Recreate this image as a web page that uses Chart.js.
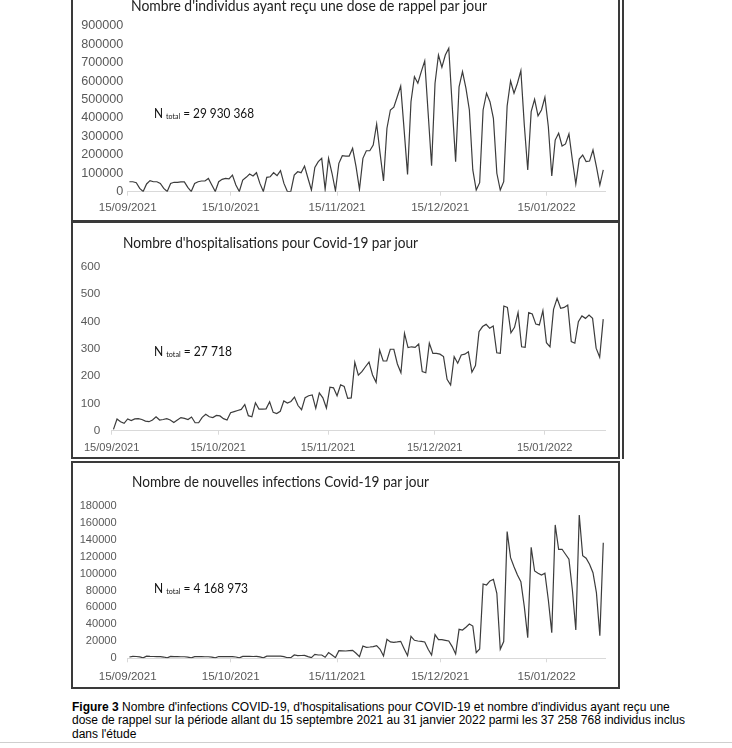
<!DOCTYPE html>
<html>
<head>
<meta charset="utf-8">
<script src="https://cdn.jsdelivr.net/npm/chart.js@4.4.1/dist/chart.umd.min.js"></script>
<style>
html,body{margin:0;padding:0;background:#fff;}
#page{position:relative;width:732px;height:748px;overflow:hidden;background:#fff;}
.box{position:absolute;border:2px solid #3a3a3a;box-sizing:border-box;}
canvas{position:absolute;}
.t{position:absolute;white-space:nowrap;transform-origin:0 0;color:#222;font-family:Lato,'Liberation Sans',sans-serif;}
.title{font-size:15px;line-height:15px;}
.ntot{font-size:13.5px;line-height:13.5px;color:#111;}
.ntot sub{font-size:8px;vertical-align:0;position:relative;top:1px;}
#caption{position:absolute;left:72px;top:700.5px;font-family:'Liberation Sans',Arial,sans-serif;font-size:12px;line-height:13.6px;color:#000;white-space:nowrap;transform-origin:0 0;}
#cover{position:absolute;left:0;top:742px;width:732px;height:10px;background:#fff;border-top:1px solid #cfcfcf;}
</style>
</head>
<body>
<div id="page">
  <div class="box" style="left:71px;top:-4px;width:549px;height:226px;"></div>
  <div class="box" style="left:71px;top:221px;width:549px;height:238px;"></div>
  <div class="box" style="left:71px;top:461px;width:549px;height:228px;"></div>
  <div style="position:absolute;left:622px;top:0;width:1.5px;height:459px;background:#3a3a3a;"></div>

  <canvas id="c1" width="545" height="220" style="left:73px;top:0px;"></canvas>
  <canvas id="c2" width="545" height="234" style="left:73px;top:223px;"></canvas>
  <canvas id="c3" width="545" height="224" style="left:73px;top:463px;"></canvas>

  <div class="t title fit" data-w="356" style="left:131px;top:-2.5px;">Nombre d'individus ayant reçu une dose de rappel par jour</div>
  <div class="t title fit" data-w="295" style="left:123px;top:235px;">Nombre d'hospitalisations pour Covid-19 par jour</div>
  <div class="t title fit" data-w="297" style="left:132px;top:474px;">Nombre de nouvelles infections Covid-19 par jour</div>

  <div class="t ntot fit" data-w="100" style="left:154px;top:107px;">N <sub>total</sub> = 29 930 368</div>
  <div class="t ntot fit" data-w="78" style="left:154px;top:345px;">N <sub>total</sub> = 27 718</div>
  <div class="t ntot fit" data-w="94" style="left:154px;top:582px;">N <sub>total</sub> = 4 168 973</div>

  <div id="caption" class="fit" data-w="613"><b>Figure 3</b> Nombre d'infections COVID-19, d'hospitalisations pour COVID-19 et nombre d'individus ayant reçu une<br>dose de rappel sur la période allant du 15 septembre 2021 au 31 janvier 2022 parmi les 37 258 768 individus inclus<br>dans l'étude</div>
  <div id="cover"></div>
</div>
<script>
// ---- data (daily, 15/09/2021 .. 31/01/2022) ----
const tickDays = [0, 30, 61, 91, 122];
const xTickLabels = ['15/09/2021', '15/10/2021', '15/11/2021', '15/12/2021', '15/01/2022'];
const nDays = 139;

const boosters = [
  54000, 54000, 49000, 18000, 1000, 42000, 60000, 54000, 54000, 45000,
  18000, 1000, 45000, 51000, 51000, 53000, 53000, 24000, 1000, 45000,
  54000, 58000, 58000, 72000, 36000, 1000, 54000, 67000, 72000, 70000,
  90000, 36000, 1000, 63000, 78000, 96000, 85000, 103000, 45000, 1000,
  78000, 81000, 103000, 87000, 114000, 45000, 1000, 2000, 90000, 108000,
  103000, 139000, 73000, 9000, 132000, 163000, 181000, 13000, 181000, 100000,
  5000, 154000, 195000, 193000, 193000, 235000, 136000, 13000, 181000, 222000,
  222000, 253000, 367000, 208000, 58000, 344000, 443000, 458000, 515000, 573000,
  335000, 94000, 488000, 624000, 588000, 651000, 709000, 425000, 141000, 588000,
  741000, 675000, 741000, 778000, 467000, 163000, 569000, 651000, 561000, 443000,
  118000, 9000, 49000, 443000, 534000, 488000, 398000, 100000, 9000, 54000,
  465000, 600000, 534000, 588000, 656000, 362000, 118000, 434000, 501000, 411000,
  443000, 512000, 352000, 85000, 280000, 317000, 248000, 259000, 313000, 172000,
  42000, 177000, 199000, 163000, 166000, 226000, 136000, 36000, 118000
];

const hospitalisations = [
  5, 43, 33, 27, 43, 37, 43, 44, 41, 35,
  33, 39, 51, 39, 41, 44, 39, 30, 39, 48,
  45, 41, 50, 29, 29, 49, 60, 51, 48, 56,
  54, 44, 39, 66, 70, 74, 78, 96, 55, 51,
  102, 79, 79, 80, 106, 67, 63, 71, 109, 101,
  107, 123, 92, 77, 121, 128, 131, 82, 138, 120,
  83, 159, 157, 128, 168, 162, 118, 120, 250, 203,
  216, 234, 251, 204, 177, 295, 255, 255, 298, 298,
  244, 212, 356, 304, 307, 305, 317, 216, 212, 320,
  283, 283, 280, 271, 188, 167, 271, 247, 277, 280,
  289, 214, 238, 362, 381, 389, 375, 383, 285, 283,
  456, 451, 358, 378, 432, 307, 305, 432, 427, 390,
  387, 439, 322, 307, 444, 484, 448, 451, 460, 326,
  320, 399, 420, 411, 423, 411, 302, 269, 408
];

const infections = [
  1500, 2300, 2100, 1600, 600, 2500, 2200, 2100, 2000, 1900,
  1500, 500, 2200, 2000, 1900, 1800, 1800, 1400, 500, 2000,
  1900, 1900, 1800, 1800, 1400, 500, 2100, 2000, 2000, 2000,
  2000, 1500, 500, 2300, 2200, 2200, 2100, 2200, 1600, 600,
  2600, 2500, 2500, 2500, 2600, 1900, 700, 800, 3900, 3100,
  3300, 3500, 2000, 800, 4700, 3900, 3900, 1200, 6700, 3900,
  800, 9000, 8800, 8600, 9000, 9400, 5900, 2000, 14500, 12900,
  13300, 13800, 14900, 10600, 2800, 22400, 19300, 18900, 19300, 20000,
  11400, 3100, 26000, 21200, 20400, 20000, 19300, 10600, 3900, 27900,
  22000, 22000, 21200, 20400, 13800, 5100, 34200, 33400, 36600, 40500,
  38100, 6700, 11000, 87700, 86500, 91200, 93200, 76700, 10600, 19700,
  149400, 118700, 108100, 98300, 90400, 60900, 24400, 130900, 103000, 100300,
  98300, 100300, 68800, 30300, 157300, 128600, 128600, 122700, 116800, 80600,
  33400, 169100, 121100, 118000, 110900, 101000, 77500, 26700, 136400
];

// ---- chart builder ----
const TICK_COLOR = '#595959';
const AXIS_COLOR = '#d9d9d9';
const LINE_COLOR = '#3c3c3c';

function makeChart(id, values, o) {
  const ctx = document.getElementById(id).getContext('2d');
  return new Chart(ctx, {
    type: 'line',
    data: {
      datasets: [{
        data: values.map((v, i) => ({ x: i + 0.5, y: v })),
        borderColor: LINE_COLOR,
        borderWidth: 1.2,
        pointRadius: 0,
        tension: 0,
        fill: false
      }]
    },
    options: {
      responsive: false,
      animation: false,
      events: [],
      layout: { autoPadding: false, padding: { left: 0, right: o.padRight, top: o.padTop, bottom: 0 } },
      plugins: { legend: { display: false }, tooltip: { enabled: false }, title: { display: false } },
      scales: {
        x: {
          type: 'linear', min: 0, max: nDays,
          afterBuildTicks: s => { s.ticks = tickDays.map(v => ({ value: v })); },
          afterFit: s => { s.height = o.xH; },
          ticks: {
            autoSkip: false, maxRotation: 0, minRotation: 0,
            callback: (v, i) => xTickLabels[i],
            color: TICK_COLOR,
            font: { family: 'Liberation Sans', size: o.xFont },
            padding: o.xPad
          },
          grid: { display: true, drawOnChartArea: false, drawTicks: true, tickLength: 4, color: AXIS_COLOR, lineWidth: 1 },
          border: { display: true, color: AXIS_COLOR, width: 1 }
        },
        y: {
          min: 0, max: o.max,
          afterFit: s => { s.width = o.yW; },
          ticks: {
            stepSize: o.step, autoSkip: false,
            callback: v => String(v),
            color: TICK_COLOR,
            font: { family: 'Liberation Sans', size: o.yFont },
            padding: o.yPad
          },
          grid: { display: false, drawTicks: false },
          border: { display: false }
        }
      }
    }
  });
}

makeChart('c1', boosters, { max: 900000, step: 100000, yW: 54.7, padTop: 25.7, padRight: 13, xH: 28.3, yFont: 12.6, xFont: 11.6, yPad: 4.4, xPad: 5 });
makeChart('c2', hospitalisations, { max: 600, step: 100, yW: 38.7, padTop: 43.7, padRight: 13, xH: 26.3, yFont: 11.7, xFont: 11.1, yPad: 11.4, xPad: 7 });
makeChart('c3', infections, { max: 180000, step: 20000, yW: 54.7, padTop: 42.7, padRight: 13, xH: 28.7, yFont: 11.1, xFont: 11.6, yPad: 11, xPad: 8 });

// fit DOM text widths to the reference
function fitTexts() {
  document.querySelectorAll('.fit').forEach(el => {
    el.style.transform = 'none';
    const w = parseFloat(el.dataset.w);
    const actual = el.getBoundingClientRect().width;
    if (actual > 0) el.style.transform = 'scaleX(' + (w / actual) + ')';
  });
}
fitTexts();
if (document.fonts && document.fonts.ready) document.fonts.ready.then(fitTexts);
</script>
</body>
</html>
